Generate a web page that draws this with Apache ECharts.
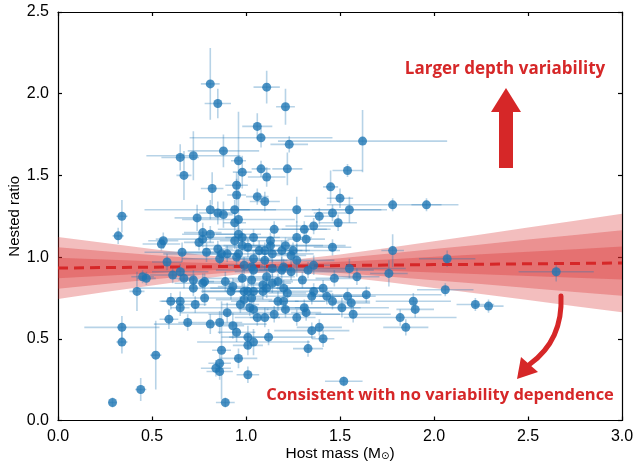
<!DOCTYPE html>
<html><head><meta charset="utf-8">
<script src="https://cdn.jsdelivr.net/npm/echarts@6/dist/echarts.min.js"></script>
<style>html,body{margin:0;padding:0;background:#fff}#c{width:637px;height:466px}</style>
</head><body><div id="c"></div>
<script>
const hostMass = [
0.29,0.44,0.52,0.34,0.34,0.34,0.32,0.42,0.45,0.47,
0.56,0.55,0.58,0.59,0.60,0.61,0.65,0.65,0.65,0.67,
0.66,0.67,0.65,0.72,0.69,0.72,0.72,0.73,0.74,0.77,
0.77,0.75,0.77,0.78,0.78,0.79,0.81,0.85,0.82,0.81,
0.85,0.88,0.88,0.81,0.81,0.85,0.87,0.90,0.86,0.86,
0.87,0.86,0.84,0.86,0.89,0.89,0.90,0.93,0.92,0.93,
0.95,0.94,0.95,0.95,0.96,0.98,0.96,0.94,0.96,0.98,
0.94,0.98,0.96,0.95,1.01,0.98,1.03,0.99,1.01,1.04,
0.99,1.03,0.97,1.02,1.04,1.01,1.04,1.01,0.96,1.01,
1.04,1.04,1.07,1.10,1.10,1.06,1.08,1.11,1.21,1.23,
1.08,1.11,1.22,1.06,1.10,1.27,1.15,1.13,1.27,1.13,
1.21,1.14,1.19,1.25,1.24,1.11,1.09,1.11,1.09,1.06,
1.10,1.12,1.19,1.24,1.14,1.17,1.20,1.22,1.17,1.20,
1.21,1.15,1.27,1.27,1.31,1.32,1.36,1.39,1.46,1.55,
1.49,1.50,1.45,1.54,1.62,1.46,1.78,1.78,1.96,2.07,
1.36,1.33,1.30,1.55,1.47,1.59,1.76,1.41,1.36,1.35,
1.43,1.54,1.64,1.46,1.56,1.51,1.31,1.32,1.57,1.39,
1.35,1.41,1.33,1.52,2.06,1.89,1.90,1.82,1.85,2.22,
2.29,2.65,1.03,1.20,0.99,1.04,1.14];
const nestedRatio = [
0.11,0.19,0.40,0.57,0.48,1.25,1.13,0.79,0.88,0.87,
1.10,1.08,0.97,0.62,0.73,0.89,0.73,0.69,0.91,0.87,
1.03,1.50,1.61,1.62,0.60,0.86,0.81,0.71,1.24,1.15,
1.11,1.09,0.84,0.85,0.75,1.03,2.06,1.94,1.42,1.29,
1.27,1.26,1.65,1.14,0.59,1.05,1.02,1.02,0.99,0.60,
0.43,0.35,0.32,0.30,0.11,0.85,0.66,0.82,0.79,0.58,
0.54,1.29,1.44,1.38,1.59,1.52,1.23,1.21,1.14,1.12,
1.10,1.07,1.02,1.00,1.06,0.87,0.86,0.79,0.79,0.79,
0.74,0.75,0.71,0.69,0.68,0.51,0.48,0.46,0.38,0.28,
1.12,0.99,1.04,1.04,0.98,1.80,1.73,2.04,1.92,1.69,
1.54,1.49,1.54,1.37,1.34,1.29,1.17,1.10,1.12,1.07,
1.07,1.02,1.04,1.04,1.01,0.88,0.83,0.81,0.79,0.63,
0.63,0.51,0.92,0.91,0.84,0.85,0.81,0.78,0.73,0.73,
0.68,0.65,0.63,0.98,1.17,1.11,1.19,1.25,1.27,1.29,
1.21,1.36,1.43,1.53,1.71,1.06,1.04,1.32,1.32,0.99,
0.95,0.92,0.86,0.93,0.87,0.88,0.90,0.81,0.79,0.76,
0.76,0.76,0.77,0.73,0.72,0.69,0.69,0.66,0.65,0.57,
0.55,0.50,0.44,0.24,0.80,0.73,0.68,0.63,0.57,0.71,
0.70,0.91,0.94,0.94,0.95,0.92,0.93];
const massErr = [
0.02,0.03,0.03,0.20,0.03,0.03,0.03,0.04,0.06,0.05,
0.08,0.10,0.08,0.05,0.06,0.12,0.10,0.05,0.15,0.06,
0.20,0.04,0.10,0.25,0.05,0.08,0.30,0.06,0.12,0.10,
0.25,0.08,0.15,0.05,0.20,0.12,0.05,0.07,0.06,0.35,
0.10,0.05,0.19,0.15,0.30,0.08,0.10,0.06,0.20,0.12,
0.05,0.06,0.08,0.07,0.05,0.10,0.25,0.08,0.15,0.06,
0.10,0.08,0.06,0.05,0.04,0.05,0.30,0.06,0.12,0.20,
0.08,0.10,0.40,0.08,0.12,0.20,0.10,0.06,0.25,0.08,
0.15,0.06,0.10,0.30,0.08,0.10,0.30,0.08,0.10,0.06,
0.15,0.10,0.08,0.20,0.12,0.08,0.38,0.07,0.05,0.10,
0.05,0.10,0.08,0.06,0.08,0.45,0.30,0.10,0.08,0.40,
0.20,0.10,0.15,0.25,0.08,0.15,0.08,0.30,0.10,0.12,
0.08,0.25,0.12,0.30,0.10,0.08,0.20,0.10,0.25,0.08,
0.10,0.35,0.10,0.20,0.12,0.10,0.15,0.08,0.10,0.20,
0.10,0.07,0.04,0.08,0.45,0.10,0.06,0.35,0.08,0.15,
0.12,0.35,0.15,0.30,0.10,0.12,0.10,0.25,0.10,0.30,
0.08,0.15,0.40,0.20,0.10,0.25,0.30,0.08,0.20,0.12,
0.20,0.06,0.08,0.10,0.15,0.20,0.10,0.30,0.12,0.10,
0.08,0.20,0.10,0.15,0.10,0.20,0.10];
const ratioErr = [
0.03,0.07,0.21,0.07,0.07,0.10,0.05,0.12,0.04,0.04,
0.05,0.04,0.05,0.06,0.05,0.05,0.06,0.05,0.05,0.06,
0.06,0.15,0.08,0.15,0.05,0.06,0.05,0.05,0.08,0.06,
0.05,0.05,0.06,0.05,0.05,0.06,0.22,0.09,0.10,0.06,
0.07,0.08,0.10,0.05,0.06,0.05,0.04,0.05,0.05,0.07,
0.30,0.06,0.05,0.05,0.03,0.06,0.06,0.05,0.05,0.08,
0.06,0.06,0.08,0.10,0.30,0.10,0.06,0.06,0.06,0.05,
0.05,0.05,0.05,0.06,0.06,0.05,0.06,0.05,0.06,0.05,
0.06,0.05,0.05,0.05,0.06,0.07,0.08,0.06,0.06,0.05,
0.05,0.05,0.06,0.05,0.06,0.08,0.06,0.10,0.11,0.05,
0.05,0.06,0.10,0.05,0.06,0.08,0.05,0.05,0.10,0.05,
0.05,0.05,0.06,0.05,0.06,0.05,0.05,0.06,0.05,0.05,
0.06,0.05,0.08,0.05,0.06,0.05,0.05,0.05,0.06,0.05,
0.05,0.05,0.05,0.10,0.05,0.08,0.05,0.05,0.05,0.08,
0.05,0.06,0.10,0.04,0.19,0.05,0.10,0.04,0.04,0.05,
0.06,0.05,0.05,0.06,0.05,0.05,0.08,0.05,0.05,0.05,
0.05,0.05,0.05,0.05,0.05,0.06,0.05,0.05,0.05,0.05,
0.05,0.05,0.05,0.03,0.04,0.05,0.05,0.05,0.05,0.04,
0.04,0.06,0.05,0.05,0.05,0.05,0.05];

const fitX = [0,0.25,0.5,0.75,1.0,1.15,1.3,1.5,1.75,2.0,2.25,2.5,2.75,3.0];
const fitY = [0.933,0.936,0.938,0.941,0.943,0.945,0.946,0.948,0.951,0.954,0.956,0.959,0.961,0.964];
const band3 = [0.190,0.150,0.112,0.075,0.044,0.037,0.044,0.068,0.104,0.143,0.182,0.222,0.262,0.302];
const band2 = [0.127,0.100,0.075,0.050,0.029,0.025,0.029,0.045,0.069,0.095,0.121,0.148,0.175,0.201];
const band1 = [0.063,0.050,0.037,0.025,0.015,0.012,0.015,0.023,0.035,0.048,0.061,0.074,0.087,0.101];

const xLabel = 'Host mass (M';
const yLabel = 'Nested ratio';
const noteTop = 'Larger depth variability';
const noteBottom = 'Consistent with no variability dependence';

const RED = '#d62728';
const chart = echarts.init(document.getElementById('c'));
const points = hostMass.map((x, i) => [x, nestedRatio[i], massErr[i], ratioErr[i]]);
const bands = [band3, band2, band1];

const axisCommon = {
  type: 'value',
  axisLine: { onZero: false, lineStyle: { color: '#000', width: 1.2 } },
  axisTick: { inside: true, length: 4, lineStyle: { color: '#000', width: 1.2 } },
  splitLine: { show: false }
};

chart.setOption({
  animation: false,
  grid: { left: 58, right: 15, top: 12, bottom: 45.5, containLabel: false, outerBoundsMode: 'none' },
  xAxis: [
    Object.assign({}, axisCommon, {
      min: 0, max: 3, interval: 0.5, position: 'bottom',
      axisLabel: { formatter: v => v.toFixed(1), color: '#000', fontSize: 16, fontFamily: 'Liberation Sans', margin: 8 },
      name: '{a|' + xLabel + '}{s|⊙}{a|)}', nameLocation: 'middle', nameGap: 25, nameMoveOverlap: false,
      nameTextStyle: { rich: { a: { fontSize: 15.5, fontFamily: 'Liberation Sans', color: '#000' }, s: { fontSize: 10, fontFamily: 'DejaVu Sans', color: '#000', verticalAlign: 'bottom', padding: [6, 0, 0, 0] } } }
    }),
    Object.assign({}, axisCommon, { min: 0, max: 3, interval: 0.5, position: 'top', axisLabel: { show: false } })
  ],
  yAxis: [
    Object.assign({}, axisCommon, {
      min: 0, max: 2.5, interval: 0.5, position: 'left',
      axisLabel: { formatter: v => v.toFixed(1), color: '#000', fontSize: 16, fontFamily: 'Liberation Sans', margin: 9 },
      name: yLabel, nameLocation: 'middle', nameGap: 36, nameMoveOverlap: false,
      nameTextStyle: { fontSize: 15, fontFamily: 'Liberation Sans', color: '#000' }
    }),
    Object.assign({}, axisCommon, { min: 0, max: 2.5, interval: 0.5, position: 'right', axisLabel: { show: false } })
  ],
  series: [
    {
      type: 'custom', z: 1, clip: true,
      data: [[0, 0], [1, 0], [2, 0]],
      encode: { x: 0, y: 1 },
      renderItem: (params, api) => {
        const h = bands[params.dataIndex];
        const up = fitX.map((x, k) => api.coord([x, fitY[k] + h[k]]));
        const lo = fitX.map((x, k) => api.coord([x, fitY[k] - h[k]])).reverse();
        return { type: 'polygon', shape: { points: up.concat(lo) }, style: { fill: 'rgba(214,39,40,0.3)' } };
      }
    },
    {
      type: 'custom', z: 2, clip: true,
      data: points,
      encode: { x: 0, y: 1 },
      renderItem: (params, api) => {
        const x = api.value(0), y = api.value(1), ex = api.value(2), ey = api.value(3);
        const a = api.coord([x - ex, y]), b = api.coord([x + ex, y]);
        const c = api.coord([x, y - ey]), d = api.coord([x, y + ey]);
        const st = { stroke: 'rgba(31,119,180,0.32)', lineWidth: 1.6 };
        return { type: 'group', children: [
          { type: 'line', shape: { x1: a[0], y1: a[1], x2: b[0], y2: b[1] }, style: st },
          { type: 'line', shape: { x1: c[0], y1: c[1], x2: d[0], y2: d[1] }, style: st }
        ] };
      }
    },
    {
      type: 'line', z: 3, silent: true,
      data: fitX.map((x, k) => [x, fitY[k]]),
      showSymbol: false, symbol: 'none',
      lineStyle: { color: RED, width: 3, type: [10, 6] }
    },
    {
      type: 'scatter', z: 4,
      data: points.map(p => [p[0], p[1]]),
      symbolSize: 9,
      itemStyle: { color: '#1f77b4', opacity: 0.8 }
    }
  ],
  graphic: [
    { type: 'text', z: 100, x: 505, y: 69, style: { text: noteTop, fill: RED, font: 'bold 17px "Open Sans"', textAlign: 'center', textVerticalAlign: 'middle' } },
    { type: 'text', z: 100, x: 440, y: 395, style: { text: noteBottom, fill: RED, font: 'bold 16.5px "Open Sans"', textAlign: 'center', textVerticalAlign: 'middle' } },
    { type: 'polygon', z: 100, shape: { points: [[499, 168], [513, 168], [513, 112], [521, 112], [506, 88], [491, 112], [499, 112]] }, style: { fill: RED } },
    { type: 'bezierCurve', z: 100, shape: { x1: 561, y1: 296, x2: 530, y2: 364, cpx1: 563, cpy1: 340 }, style: { stroke: RED, lineWidth: 5, fill: null, lineCap: 'round' } },
    { type: 'polygon', z: 100, shape: { points: [[517, 379], [521, 357], [538, 372]] }, style: { fill: RED } }
  ]
});
</script>
</body></html>
